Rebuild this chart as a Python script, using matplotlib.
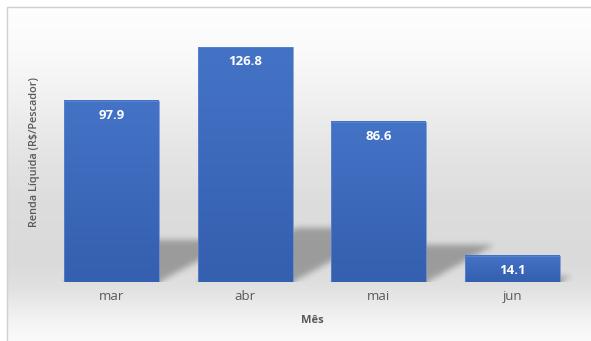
import numpy as np
import matplotlib
matplotlib.use("Agg")
import matplotlib.pyplot as plt
from matplotlib.patches import Rectangle

plt.rcParams["font.family"] = ["Open Sans", "DejaVu Sans"]

# Data
months = ["mar", "abr", "mai", "jun"]
renda = [97.9, 126.8, 86.6, 14.1]

W_PX, H_PX = 591, 341
fig = plt.figure(figsize=(W_PX / 100, H_PX / 100), dpi=100)

# ---- background panel with vertical gray gradient and thin frame ----
bg = fig.add_axes([0, 0, 1, 1], zorder=0)
bg.set_xlim(0, 1)
bg.set_ylim(0, 1)
bg.axis("off")
rows = np.arange(H_PX)
stops_y = [7, 50, 100, 150, 200, 260, 285, 300, 320, 341]
stops_v = [254, 250, 240, 229, 221, 218, 224, 232, 243, 250]
gray = np.interp(rows, stops_y, stops_v) / 255.0
img = np.repeat(gray[:, None], W_PX, axis=1)
img[:7, :] = 1.0
img[:, :7] = 1.0
bg.imshow(np.dstack([img] * 3), extent=(0, 1, 0, 1), aspect="auto", zorder=0)
frame_x = 7 / W_PX
frame_y = 1 - 7 / H_PX
bg.add_patch(Rectangle((frame_x, -0.01), 1.02 - frame_x, frame_y + 0.01,
                       fill=False, edgecolor="#d0d0d0", linewidth=1.0, zorder=1))

# ---- main axes ----
ax = fig.add_axes([44.6 / W_PX, 59 / H_PX, 534.7 / W_PX, 259.4 / H_PX], zorder=1)
ax.patch.set_alpha(0)
x = np.arange(len(months))
bar_w = 0.71
bars = ax.bar(x, renda, width=bar_w, facecolor="none",
              edgecolor="#5f88d2", linewidth=0.5, zorder=3)
ax.set_xlim(-0.5, 3.5)
ax.set_ylim(0, 140)

# vertical gradient fill inside each bar
grad = np.linspace(0, 1, 64)[:, None]
top_c = np.array([68, 115, 198]) / 255
bot_c = np.array([53, 95, 175]) / 255
bar_img = (bot_c[None, None, :] * (1 - grad[..., None]) + top_c[None, None, :] * grad[..., None])
for b in bars:
    x0, x1 = b.get_x(), b.get_x() + b.get_width()
    ax.imshow(bar_img, extent=(x0, x1, 0, b.get_height()), origin="lower",
              aspect="auto", zorder=2.5, interpolation="bilinear")

# ---- perspective shadows cast behind the bars ----
p0 = ax.transData.transform((0, 0))
p1 = ax.transData.transform((1, 1))
sx, sy = p1[0] - p0[0], p1[1] - p0[1]
Wa, Ha = int(round(534.7)), int(round(259.4))
xs = -0.5 + (np.arange(Wa) + 0.5) / Wa * 4.0
ys = (np.arange(Ha) + 0.5) / Ha * 140.0
X, Y = np.meshgrid(xs, ys)
shear = sy / (0.55 * sx)
alpha = np.zeros_like(X)
for b in bars:
    x0, x1, h = b.get_x(), b.get_x() + b.get_width(), b.get_height()
    s = 0.23 * h
    xr = X - Y * shear
    m = (Y <= s) & (xr >= x0) & (xr <= x1)
    alpha = np.maximum(alpha, m.astype(float))


def blur(a, sigma):
    r = int(3 * sigma)
    k = np.exp(-0.5 * (np.arange(-r, r + 1) / sigma) ** 2)
    k /= k.sum()
    a = np.apply_along_axis(lambda v: np.convolve(np.pad(v, r, mode="edge"), k, mode="valid"), 1, a)
    a = np.apply_along_axis(lambda v: np.convolve(np.pad(v, r, mode="edge"), k, mode="valid"), 0, a)
    return a


alpha = blur(alpha, 3.0)
shadow = np.zeros((Ha, Wa, 4))
shadow[..., 3] = alpha * 0.29
ax.imshow(shadow, extent=(-0.5, 3.5, 0, 140), origin="lower", aspect="auto",
          zorder=1.5, interpolation="bilinear")
ax.set_xlim(-0.5, 3.5)
ax.set_ylim(0, 140)

# value labels inside the bars
for xi, v in zip(x, renda):
    ax.annotate(f"{v:.1f}", xy=(xi, v), xytext=(0, -10.5), textcoords="offset points",
                ha="center", va="center", color="white", fontweight="bold",
                fontsize=9.5, zorder=4)

# axes styling
for sp in ax.spines.values():
    sp.set_visible(False)
ax.set_yticks([])
ax.set_xticks(x, months)
ax.tick_params(axis="x", length=0, pad=6, labelsize=9.5, labelcolor="#595959")

ax.set_ylabel("Renda Líquida (R$/Pescador)", fontsize=7.8, color="#595959",
              fontweight="semibold")
ax.yaxis.label.set_verticalalignment("center")
ax.yaxis.set_label_coords(-0.018, 0.5)

ax.set_xlabel("Mês", fontsize=8, color="#595959", fontweight="bold")
ax.xaxis.label.set_verticalalignment("center")
ax.xaxis.set_label_coords(0.5, -0.15)

fig.savefig("out.png", dpi=100)
